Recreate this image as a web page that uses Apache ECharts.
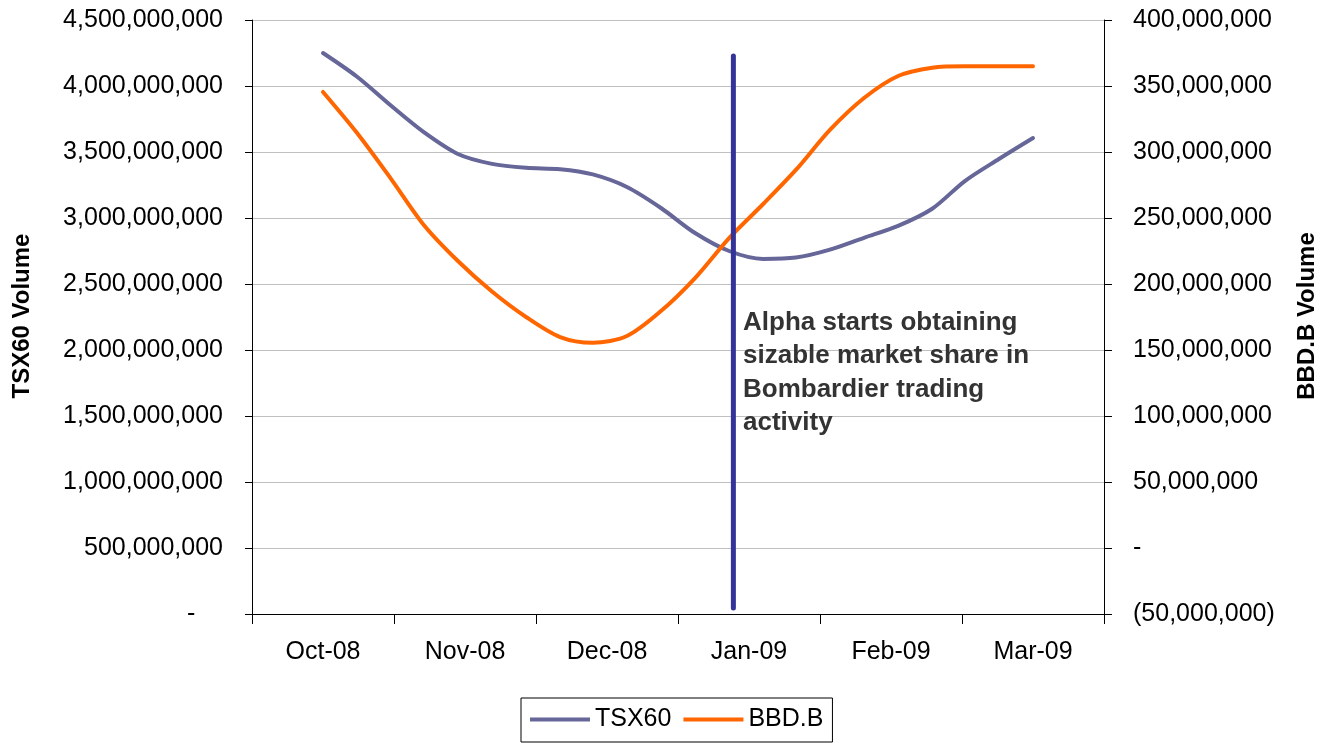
<!DOCTYPE html>
<html>
<head>
<meta charset="utf-8">
<script src="https://cdn.jsdelivr.net/npm/echarts@6/dist/echarts.min.js"></script>
<style>
html,body{margin:0;padding:0;background:#fff;}
#chart{width:1321px;height:743px;}
</style>
</head>
<body>
<div id="chart"></div>
<script>
// Month categories (visible axis)
const months = ['Oct-08', 'Nov-08', 'Dec-08', 'Jan-09', 'Feb-09', 'Mar-09'];
// Weekly sample positions, in months from start of Oct-08
const weekPos = [0.50, 0.74, 0.98, 1.21, 1.45, 1.69, 1.93, 2.17, 2.40, 2.64, 2.88,
                 3.12, 3.36, 3.60, 3.83, 4.07, 4.31, 4.55, 4.79, 5.02, 5.26, 5.50];
// TSX60 volume (left axis)
const tsx60 = [4250000000, 4070000000, 3850000000, 3650000000, 3485000000, 3410000000,
               3380000000, 3370000000, 3330000000, 3235000000, 3076000000, 2886000000,
               2750000000, 2690000000, 2700000000, 2760000000, 2850000000, 2940000000,
               3070000000, 3280000000, 3447000000, 3606000000];
// BBD.B volume (right axis)
const bbdb = [345500000, 314400000, 279500000, 244700000, 217400000, 194300000,
              175000000, 159800000, 155500000, 160600000, 179500000, 204500000,
              234800000, 260600000, 286400000, 316700000, 340900000, 357600000,
              363900000, 365000000, 365000000, 365000000];
// Event marker (position in months, left-axis values of its ends)
const eventPos = 3.39;
const eventRange = [4227000000, 45000000];
const eventText = 'Alpha starts obtaining\nsizable market share in\nBombardier trading\nactivity';

const FONT = "'Liberation Sans', Arial, sans-serif";
const fmt = v => Math.abs(v).toLocaleString('en-US');

const chart = echarts.init(document.getElementById('chart'));
chart.setOption({
  animation: false,
  textStyle: { fontFamily: FONT },
  grid: { left: 252, right: 217, top: 20, bottom: 129, containLabel: false },
  xAxis: [
    {
      type: 'category', data: months, boundaryGap: true,
      axisLine: { lineStyle: { color: '#000', width: 1 } },
      axisTick: { show: true, inside: false, length: 10, interval: 0, lineStyle: { color: '#000' } },
      axisLabel: { margin: 26, fontSize: 25, color: '#000', fontFamily: FONT, interval: 0 },
      splitLine: { show: false }
    },
    { type: 'value', min: 0, max: 6, show: false }
  ],
  yAxis: [
    {
      type: 'value', min: 0, max: 4500000000, interval: 500000000, position: 'left',
      axisLine: { show: true, lineStyle: { color: '#000' } },
      axisTick: { show: true, length: 7, lineStyle: { color: '#000' } },
      axisLabel: { margin: 29, fontSize: 25, color: '#000', fontFamily: FONT,
        formatter: v => v === 0 ? '-    ' : fmt(v) },
      splitLine: { show: true, lineStyle: { color: '#c0c0c0', width: 1 } }
    },
    {
      type: 'value', min: -50000000, max: 400000000, interval: 50000000, position: 'right',
      axisLine: { show: true, lineStyle: { color: '#000' } },
      axisTick: { show: true, length: 8, lineStyle: { color: '#000' } },
      axisLabel: { margin: 29, fontSize: 25, color: '#000', fontFamily: FONT,
        formatter: v => v === 0 ? '-' : (v < 0 ? '(' + fmt(v) + ')' : fmt(v)) },
      splitLine: { show: false }
    }
  ],
  legend: {
    data: ['TSX60', 'BBD.B'],
    left: 521, top: 698,
    orient: 'horizontal',
    icon: 'rect', itemWidth: 60, itemHeight: 4, itemGap: 12,
    padding: [9, 9, 10, 9],
    borderColor: '#000', borderWidth: 1,
    textStyle: { fontSize: 25, color: '#000', fontFamily: FONT }
  },
  series: [
    {
      name: 'TSX60', type: 'line', xAxisIndex: 1, yAxisIndex: 0,
      data: weekPos.map((x, i) => [x, tsx60[i]]),
      smooth: 0.3, symbol: 'none',
      lineStyle: { color: '#666699', width: 4, cap: 'round' },
      itemStyle: { color: '#666699' }
    },
    {
      name: 'BBD.B', type: 'line', xAxisIndex: 1, yAxisIndex: 1,
      data: weekPos.map((x, i) => [x, bbdb[i]]),
      smooth: 0.3, symbol: 'none',
      lineStyle: { color: '#FF6600', width: 4, cap: 'round' },
      itemStyle: { color: '#FF6600' }
    },
    {
      name: 'event', type: 'line', xAxisIndex: 1, yAxisIndex: 0,
      data: eventRange.map(v => [eventPos, v]),
      symbol: 'none', silent: true,
      lineStyle: { color: '#333399', width: 5, cap: 'round' },
      z: 3
    }
  ],
  graphic: [
    {
      type: 'text', x: 743, y: 306, z: 10,
      style: { text: eventText, font: "bold 26px " + FONT, fill: '#333333',
        lineHeight: 33.5, align: 'left', verticalAlign: 'top',
        textAlign: 'left', textVerticalAlign: 'top' }
    },
    {
      type: 'text', x: 22, y: 316, rotation: Math.PI / 2, z: 10,
      style: { text: 'TSX60 Volume', font: "bold 24px " + FONT, fill: '#000',
        align: 'center', verticalAlign: 'middle', textAlign: 'center', textVerticalAlign: 'middle' }
    },
    {
      type: 'text', x: 1307, y: 316, rotation: Math.PI / 2, z: 10,
      style: { text: 'BBD.B Volume', font: "bold 24px " + FONT, fill: '#000',
        align: 'center', verticalAlign: 'middle', textAlign: 'center', textVerticalAlign: 'middle' }
    }
  ]
});
</script>
</body>
</html>
